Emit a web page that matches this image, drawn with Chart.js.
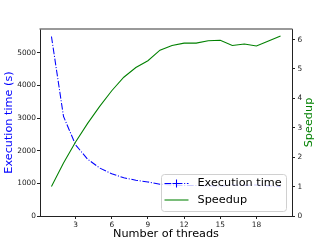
<!DOCTYPE html>
<html>
<head>
<meta charset="utf-8">
<script src="https://cdn.jsdelivr.net/npm/chart.js@4"></script>
<style>
html, body { margin: 0; padding: 0; background: #fff; }
#wrap { width: 324px; height: 243px; }
</style>
</head>
<body>
<div id="wrap"><canvas id="chart" width="324" height="243"></canvas></div>
<script>
// values
const threads = [1, 2, 3, 4, 5, 6, 7, 8, 9, 10, 11, 12, 13, 14, 15, 16, 17, 18, 19, 20];
const execTime = [5500, 3050, 2180, 1740, 1470, 1295, 1170, 1095, 1045, 975, 950, 935, 935, 925, 920, 950, 940, 952, 925, 900];
const speedup = [1.0, 1.8, 2.52, 3.15, 3.73, 4.26, 4.72, 5.05, 5.28, 5.64, 5.8, 5.88, 5.88, 5.96, 5.98, 5.8, 5.85, 5.78, 5.95, 6.12];
const xTicks = [3, 6, 9, 12, 15, 18];
const timeTicks = [0, 1000, 2000, 3000, 4000, 5000];
const speedupTicks = [0, 1, 2, 3, 4, 5, 6];

const FONT = 'DejaVu Sans';
const BLUE = '#0000ff';
const GREEN = '#008000';
const AXIS = '#222';
const TICK_SIZE = 7.4;
const LABEL_SIZE = 11.25;

const toPoints = (ys) => threads.map((t, i) => ({ x: t, y: ys[i] }));
const fixedTicks = (list) => (scale) => { scale.ticks = list.map(v => ({ value: v })); };

const axisBase = (ticks, pad) => ({
  grid: { display: true, drawOnChartArea: false, drawTicks: true, tickLength: 3, color: AXIS, lineWidth: 1 },
  border: { display: true, color: AXIS, width: 1 },
  ticks: {
    font: { family: FONT, size: TICK_SIZE }, color: AXIS, autoSkip: false, maxRotation: 0,
    padding: pad, callback: (v) => String(v)
  },
  afterBuildTicks: fixedTicks(ticks)
});

// top spine + right axis title (reads bottom to top, like matplotlib)
const framePlugin = {
  id: 'frame',
  afterDraw(chart) {
    const { ctx, chartArea: a } = chart;
    ctx.save();
    ctx.strokeStyle = '#777';
    ctx.lineWidth = 1.6;
    ctx.beginPath();
    ctx.moveTo(a.left - 0.5, a.top);
    ctx.lineTo(a.right + 0.5, a.top);
    ctx.stroke();

    ctx.translate(312.3, (a.top + a.bottom) / 2);
    ctx.rotate(-Math.PI / 2);
    ctx.fillStyle = GREEN;
    ctx.font = LABEL_SIZE + 'px "' + FONT + '"';
    ctx.textAlign = 'center';
    ctx.textBaseline = 'alphabetic';
    ctx.fillText('Speedup', 0, 0);
    ctx.restore();
  }
};

const legendPlugin = {
  id: 'mplLegend',
  afterDraw(chart) {
    const ctx = chart.ctx;
    const box = { x: 161, y: 174, w: 125, h: 37, r: 3 };
    ctx.save();
    ctx.beginPath();
    ctx.roundRect(box.x + 0.5, box.y + 0.5, box.w, box.h, box.r);
    ctx.fillStyle = 'rgba(255,255,255,0.8)';
    ctx.fill();
    ctx.strokeStyle = '#d0d0d0';
    ctx.lineWidth = 1;
    ctx.stroke();

    const rows = [183.5, 200];
    chart.data.datasets.forEach((ds, i) => {
      const y = rows[i];
      ctx.strokeStyle = ds.borderColor;
      ctx.lineWidth = ds.borderWidth;
      ctx.setLineDash(ds.borderDash || []);
      ctx.beginPath();
      ctx.moveTo(164.5, y);
      ctx.lineTo(188.5, y);
      ctx.stroke();
      ctx.setLineDash([]);
      if (ds.legendMarker === 'plus') {
        ctx.beginPath();
        ctx.moveTo(176.5, y - 4);
        ctx.lineTo(176.5, y + 4);
        ctx.moveTo(172.5, y);
        ctx.lineTo(180.5, y);
        ctx.stroke();
      }
      ctx.fillStyle = '#000';
      ctx.font = LABEL_SIZE + 'px "' + FONT + '"';
      ctx.textBaseline = 'middle';
      ctx.textAlign = 'left';
      ctx.fillText(ds.label, 197.5, y);
    });
    ctx.restore();
  }
};

new Chart(document.getElementById('chart'), {
  type: 'line',
  data: {
    datasets: [
      {
        label: 'Execution time',
        data: toPoints(execTime),
        yAxisID: 'y',
        borderColor: BLUE,
        borderWidth: 1.05,
        borderDash: [6.75, 1.7, 1.05, 1.7],
        pointRadius: 0,
        tension: 0,
        order: 2,
        legendMarker: 'plus'
      },
      {
        label: 'Speedup',
        data: toPoints(speedup),
        yAxisID: 'y1',
        borderColor: GREEN,
        borderWidth: 1.05,
        pointRadius: 0,
        tension: 0,
        order: 1
      }
    ]
  },
  options: {
    responsive: false,
    animation: false,
    devicePixelRatio: 1,
    layout: { padding: { top: 29, left: 0, right: 0, bottom: 0 } },
    plugins: { legend: { display: false }, tooltip: { enabled: false } },
    scales: {
      x: {
        type: 'linear',
        position: 'bottom',
        min: 0.05,
        max: 20.95,
        ...axisBase(xTicks, 1.5),
        title: { display: true, text: 'Number of threads', color: '#000', font: { family: FONT, size: LABEL_SIZE }, padding: { top: 0, bottom: 2.2 } },
        afterFit: (s) => { s.height = 27; }
      },
      y: {
        type: 'linear',
        position: 'left',
        min: 0,
        max: 5730,
        ...axisBase(timeTicks, 1),
        title: { display: true, text: 'Execution time (s)', color: BLUE, font: { family: FONT, size: LABEL_SIZE }, padding: { top: 2.2, bottom: 0 } },
        afterFit: (s) => { s.width = 40; }
      },
      y1: {
        type: 'linear',
        position: 'right',
        min: 0,
        max: 6.36,
        ...axisBase(speedupTicks, 2.5),
        title: { display: false },
        afterFit: (s) => { s.width = 32; }
      }
    }
  },
  plugins: [framePlugin, legendPlugin]
});
</script>
</body>
</html>
